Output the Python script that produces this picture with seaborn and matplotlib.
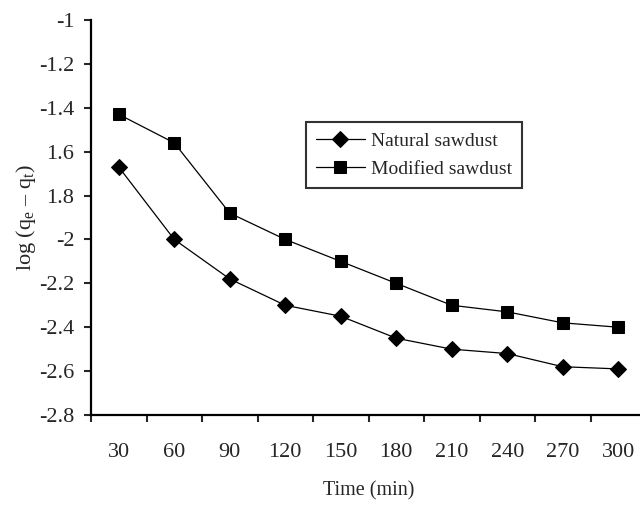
import matplotlib
matplotlib.use("Agg")
import matplotlib.pyplot as plt
import seaborn as sns
import pandas as pd
import numpy as np

# ---- data ----
time_labels = ["30", "60", "90", "120", "150", "180", "210", "240", "270", "300"]
natural = [-1.67, -2.00, -2.18, -2.30, -2.35, -2.45, -2.50, -2.52, -2.58, -2.59]
modified = [-1.43, -1.56, -1.88, -2.00, -2.10, -2.20, -2.30, -2.33, -2.38, -2.40]
y_ticks = [-1.0, -1.2, -1.4, -1.6, -1.8, -2.0, -2.2, -2.4, -2.6, -2.8]
y_tick_labels = ["-1", "-1.2", "-1.4", "1.6", "1.8", "-2", "-2.2", "-2.4", "-2.6", "-2.8"]

sns.set_style("white")
plt.rcParams["font.family"] = ["Liberation Serif", "DejaVu Serif"]
plt.rcParams["mathtext.fontset"] = "custom"
plt.rcParams["mathtext.rm"] = "Liberation Serif"
plt.rcParams["mathtext.it"] = "Liberation Serif:italic"

FS_TICK = 16
FS_LABEL = 14.5
FS_YLABEL = 16
FS_LEG = 14

pos = np.arange(len(time_labels))
df = pd.DataFrame({
    "pos": np.concatenate([pos, pos]),
    "value": natural + modified,
    "series": ["Natural sawdust"] * len(pos) + ["Modified sawdust"] * len(pos),
})

fig = plt.figure(figsize=(6.40, 5.08), dpi=100)
ax = fig.add_axes([91 / 640, (508 - 415) / 508, 555 / 640, (415 - 20) / 508])

sns.lineplot(data=df, x="pos", y="value", hue="series", style="series",
             markers={"Natural sawdust": "D", "Modified sawdust": "s"},
             dashes=False, palette={"Natural sawdust": "black", "Modified sawdust": "black"},
             markersize=9, linewidth=0.9, markeredgecolor="black", ax=ax, legend=True)
for ln in ax.lines:
    if ln.get_marker() == "D":
        ln.set_markersize(8)

ax.set_xlim(-0.5, len(pos) - 0.5)
ax.set_ylim(-2.8, -1.0)

ax.set_xticks(pos)
ax.set_xticklabels(time_labels, fontsize=FS_TICK)
ax.set_xticks(np.arange(-0.5, len(pos), 1.0), minor=True)
ax.tick_params(axis="x", which="major", length=0, pad=20)
ax.tick_params(axis="x", which="minor", length=5, width=1.5, direction="out", bottom=True)

ax.set_yticks(y_ticks)
ax.set_yticklabels(y_tick_labels, fontsize=FS_TICK)
ax.tick_params(axis="y", which="major", length=5, width=1.5, direction="out", left=True, pad=7)

for s in ["top", "right"]:
    ax.spines[s].set_visible(False)
for s in ["left", "bottom"]:
    ax.spines[s].set_linewidth(1.6)
    ax.spines[s].set_color("black")

ax.set_xlabel("Time (min)", fontsize=FS_LABEL, labelpad=14)
ax.set_ylabel(r"log (q$_\mathrm{e}$ – q$_\mathrm{t}$)", fontsize=FS_YLABEL, labelpad=1)

leg = ax.legend(loc="upper left", bbox_to_anchor=(0.387, 0.742), borderaxespad=0,
                fontsize=FS_LEG, frameon=True, fancybox=False, handlelength=2.5,
                handletextpad=0.3, labelspacing=0.55, borderpad=0.53)
leg.get_frame().set_edgecolor("black")
leg.get_frame().set_linewidth(1.5)

fig.savefig("out.png", dpi=100)
